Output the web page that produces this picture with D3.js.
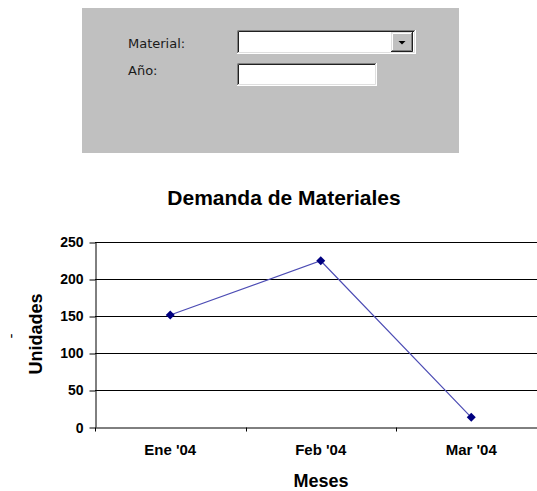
<!DOCTYPE html>
<html>
<head>
<meta charset="utf-8">
<script src="https://cdn.jsdelivr.net/npm/d3@7"></script>
<style>
  html, body { margin: 0; padding: 0; background: #fff; }
  svg { display: block; }
</style>
</head>
<body>
<svg id="chart" width="537" height="491"></svg>
<script>
// ---- data ----
const months = ["Ene '04", "Feb '04", "Mar '04"];
const units = [151, 224, 13];
const yTicks = [0, 50, 100, 150, 200, 250];
const chartTitle = "Demanda de Materiales";
const xTitle = "Meses";
const yTitle = "Unidades";
const formLabels = ["Material:", "Año:"];

const svg = d3.select("#chart");

// ---- form panel ----
const form = svg.append("g");
form.append("rect").attr("x", 82).attr("y", 8).attr("width", 377).attr("height", 145).attr("fill", "#c0c0c0");

form.selectAll("text.lbl").data(formLabels).join("text")
  .attr("class", "lbl")
  .attr("x", 128)
  .attr("y", (d, i) => i === 0 ? 48 : 75)
  .attr("font-family", "DejaVu Sans, Verdana, sans-serif")
  .attr("font-size", 13)
  .attr("fill", "#1a1a1a")
  .text(d => d);

function sunkenBox(x, y, w, h) {
  const g = form.append("g");
  g.append("rect").attr("x", x).attr("y", y).attr("width", w).attr("height", h).attr("fill", "#fff");
  g.append("path").attr("d", `M${x+0.5},${y+h} V${y+0.5} H${x+w}`).attr("stroke", "#808080").attr("fill", "none");
  g.append("path").attr("d", `M${x+1.5},${y+h-1} V${y+1.5} H${x+w-1}`).attr("stroke", "#202020").attr("fill", "none");
  g.append("path").attr("d", `M${x},${y+h-0.5} H${x+w-0.5} V${y}`).attr("stroke", "#ffffff").attr("fill", "none");
  g.append("path").attr("d", `M${x+1},${y+h-1.5} H${x+w-1.5} V${y+1}`).attr("stroke", "#dfdfdf").attr("fill", "none");
}
sunkenBox(237, 30, 179, 24);
sunkenBox(237, 63, 140, 23);

// dropdown button
(function () {
  const bx = 391, by = 32, bw = 22, bh = 20;
  const g = form.append("g");
  g.append("rect").attr("x", bx).attr("y", by).attr("width", bw).attr("height", bh).attr("fill", "#c0c0c0");
  g.append("path").attr("d", `M${bx+0.5},${by+bh} V${by+0.5} H${bx+bw}`).attr("stroke", "#dfdfdf").attr("fill", "none");
  g.append("path").attr("d", `M${bx+1.5},${by+bh-1} V${by+1.5} H${bx+bw-1}`).attr("stroke", "#ffffff").attr("fill", "none");
  g.append("path").attr("d", `M${bx},${by+bh-0.5} H${bx+bw-0.5} V${by}`).attr("stroke", "#202020").attr("fill", "none");
  g.append("path").attr("d", `M${bx+1},${by+bh-1.5} H${bx+bw-1.5} V${by+1}`).attr("stroke", "#808080").attr("fill", "none");
  const cx = bx + bw / 2, cy = by + bh / 2 + 1;
  g.append("path").attr("d", `M${cx-3.5},${cy-2} L${cx+3.5},${cy-2} L${cx},${cy+1.5} Z`).attr("fill", "#000");
})();

// ---- chart ----
const x = d3.scaleBand().domain(months).range([95, 546.5]).padding(0);
const y = d3.scaleLinear().domain([0, 250]).range([427, 241.5]);

const font = "Liberation Sans, Arial, sans-serif";

svg.append("text")
  .attr("x", 284).attr("y", 205)
  .attr("text-anchor", "middle")
  .attr("font-family", font).attr("font-weight", "bold").attr("font-size", 21)
  .attr("fill", "#000")
  .text(chartTitle);

// gridlines
svg.append("g").selectAll("line").data(yTicks.filter(d => d > 0)).join("line")
  .attr("x1", 95).attr("x2", 546.5)
  .attr("y1", d => Math.round(y(d)) + 0.5).attr("y2", d => Math.round(y(d)) + 0.5)
  .attr("stroke", "#000").attr("stroke-width", 1);

// y axis
const yAxis = svg.append("g")
  .attr("transform", "translate(95.5,0)")
  .call(d3.axisLeft(y).tickValues(yTicks).tickSize(6).tickSizeOuter(0).tickPadding(6))
  .call(g => g.select(".domain").attr("stroke", "#000"));
yAxis.selectAll(".tick line").attr("transform", d => `translate(0,${Math.round(y(d)) + 0.5 - y(d)})`);
yAxis.selectAll("text").attr("font-family", font).attr("font-weight", "bold").attr("font-size", 14).attr("fill", "#000")
  .attr("dy", "0.36em");

// x axis
const xAxis = svg.append("g")
  .attr("transform", `translate(0,${Math.round(y(0)) + 0.5})`)
  .call(d3.axisBottom(x).tickSize(0).tickPadding(17))
  .call(g => g.select(".domain").attr("stroke", "#000"));
xAxis.selectAll("text").attr("font-family", font).attr("font-weight", "bold").attr("font-size", 15).attr("fill", "#000");
const bounds = months.map(m => x(m)).concat([x(months[months.length - 1]) + x.bandwidth()]);
xAxis.append("g").selectAll("line").data(bounds).join("line")
  .attr("x1", d => Math.round(d) + 0.5).attr("x2", d => Math.round(d) + 0.5)
  .attr("y1", 0).attr("y2", 4)
  .attr("stroke", "#000");

// line + markers
const cx = d => x(d) + x.bandwidth() / 2;
const pts = months.map((m, i) => [cx(m), y(units[i])]);
svg.append("path")
  .attr("d", d3.line()(pts))
  .attr("fill", "none").attr("stroke", "#4c4cb4").attr("stroke-width", 1.2);
svg.append("g").selectAll("path").data(pts).join("path")
  .attr("transform", d => `translate(${d[0]},${d[1]})`)
  .attr("d", "M0,-4.5 L4.5,0 L0,4.5 L-4.5,0 Z")
  .attr("fill", "#000080");

// axis titles
svg.append("text")
  .attr("x", 321).attr("y", 487)
  .attr("text-anchor", "middle")
  .attr("font-family", font).attr("font-weight", "bold").attr("font-size", 18)
  .attr("fill", "#000")
  .text(xTitle);

svg.append("text")
  .attr("transform", "translate(42,334) rotate(-90)")
  .attr("text-anchor", "middle")
  .attr("font-family", font).attr("font-weight", "bold").attr("font-size", 18)
  .attr("fill", "#000")
  .text(yTitle);

svg.append("text")
  .attr("transform", "translate(16,336) rotate(-90)")
  .attr("text-anchor", "middle")
  .attr("font-family", font).attr("font-size", 15)
  .attr("fill", "#000")
  .text("-");
</script>
</body>
</html>
